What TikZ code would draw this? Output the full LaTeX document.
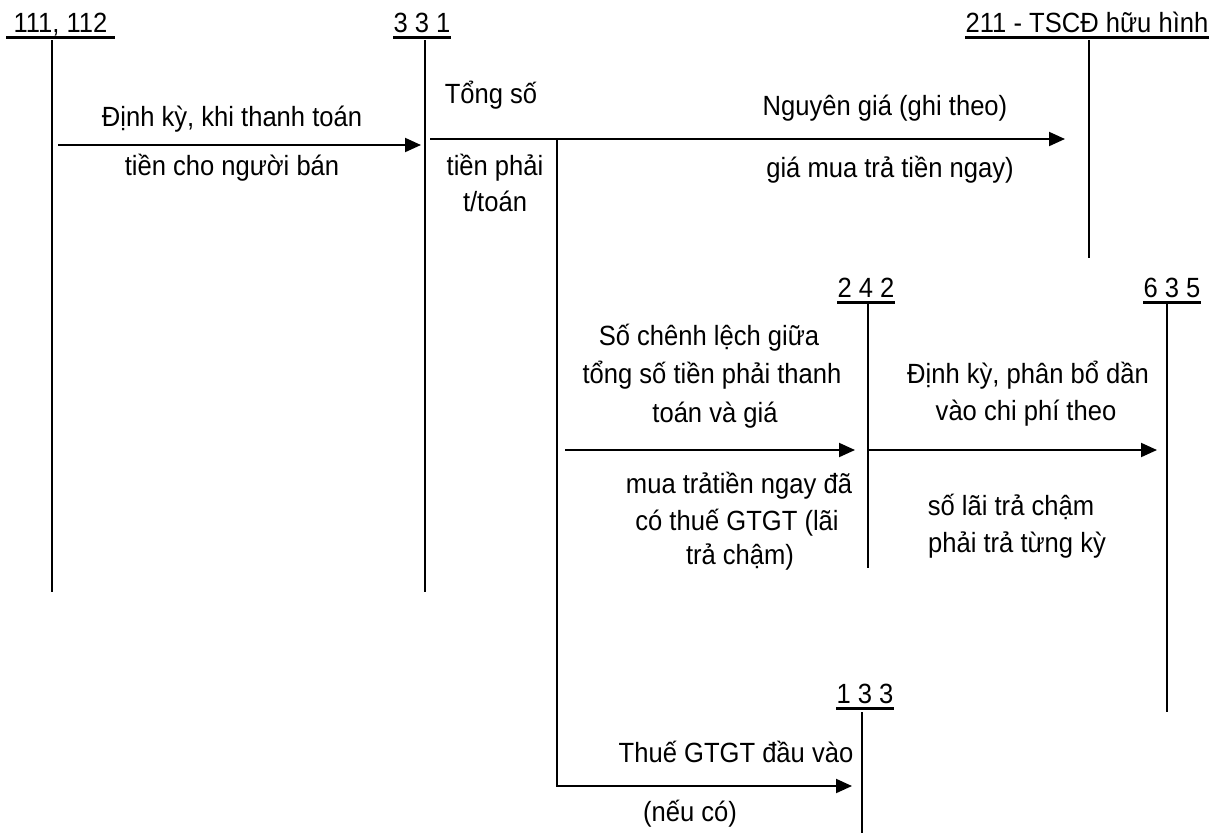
\documentclass[tikz,border=0pt]{standalone}
\usepackage{fontspec}
\setmainfont{Liberation Sans}[FakeStretch=0.92]
\usetikzlibrary{arrows.meta}
\begin{document}
\begin{tikzpicture}[x=1pt,y=-1pt,
  txt/.style={font=\fontsize{27.8}{32}\selectfont, anchor=base, inner sep=0pt},
  head/.style={txt},
  acct/.style={line width=2pt},
  uline/.style={line width=3pt},
  arr/.style={-{Triangle[length=16pt,width=14pt]}, line width=2pt}]
\useasboundingbox (0,0) rectangle (1223,836);

% headings
\node[head] (h111) at (60.5,32) {111, 112};
\node[head] (h331) at (422,32) {3 3 1};
\node[head] (h211) at (1087,32) {211 - TSCĐ hữu hình};
\node[head] (h242) at (866,297) {2 4 2};
\node[head] (h635) at (1172,297) {6 3 5};
\node[head] (h133) at (865,703) {1 3 3};
\draw[uline] ([xshift=-7pt,yshift=-5pt]h111.base west) -- ([xshift=7pt,yshift=-5pt]h111.base east);
\foreach \h in {h331,h211,h242,h635,h133}
  \draw[uline] ([yshift=-5pt]\h.base west) -- ([yshift=-5pt]\h.base east);

% account lines
\coordinate (t111) at (52,40);   \coordinate (b111) at (52,592);
\coordinate (t331) at (425,40);  \coordinate (b331) at (425,592);
\coordinate (t211) at (1089,40); \coordinate (b211) at (1089,258);
\coordinate (t242) at (868,304); \coordinate (b242) at (868,568);
\coordinate (t635) at (1167,304);\coordinate (b635) at (1167,712);
\coordinate (t133) at (862,712); \coordinate (b133) at (862,833);
\foreach \a in {111,331,211,242,635,133}
  \draw[acct] (t\a) -- (b\a);

% connectors
\coordinate (s1) at (58,145);  \coordinate (e1) at (421,145);
\draw[arr] (s1) -- (e1);
\coordinate (s2) at (430,139); \coordinate (e2) at (1065,139);
\draw[arr] (s2) -- (e2);
\coordinate (br) at (557,139); \coordinate (bc) at (557,786); \coordinate (e3) at (852,786);
\draw[arr] (br) -- (bc) -- (e3);
\coordinate (s4) at (565,450); \coordinate (e4) at (855,450);
\draw[arr] (s4) -- (e4);
\coordinate (s5) at (868,450); \coordinate (e5) at (1157,450);
\draw[arr] (s5) -- (e5);

% labels
\node[txt] (l1a) at (232,126) {Định kỳ, khi thanh toán};
\node[txt] (l1b) at (232,175) {tiền cho người bán};
\node[txt] (l2a) at (491,103) {Tổng số};
\node[txt] (l2b) at (495,175) {tiền phải};
\node[txt] (l2c) at (495,211) {t/toán};
\node[txt] (l3a) at (885,115) {Nguyên giá (ghi theo)};
\node[txt] (l3b) at (890,177) {giá mua trả tiền ngay)};
\node[txt] (l4a) at (709,345) {Số chênh lệch giữa};
\node[txt] (l4b) at (712,383) {tổng số tiền phải thanh};
\node[txt] (l4c) at (715,422) {toán và giá};
\node[txt] (l4d) at (739,493) {mua trảtiền ngay đã};
\node[txt] (l4e) at (737,530) {có thuế GTGT (lãi};
\node[txt] (l4f) at (740,564) {trả chậm)};
\node[txt] (l5a) at (1028,383) {Định kỳ, phân bổ dần};
\node[txt] (l5b) at (1026,420) {vào chi phí theo};
\node[txt] (l5c) at (1011,515) {số lãi trả chậm};
\node[txt] (l5d) at (1017,552) {phải trả từng kỳ};
\node[txt] (l6a) at (736,762) {Thuế GTGT đầu vào};
\node[txt] (l6b) at (690,821) {(nếu có)};
\end{tikzpicture}
\end{document}
